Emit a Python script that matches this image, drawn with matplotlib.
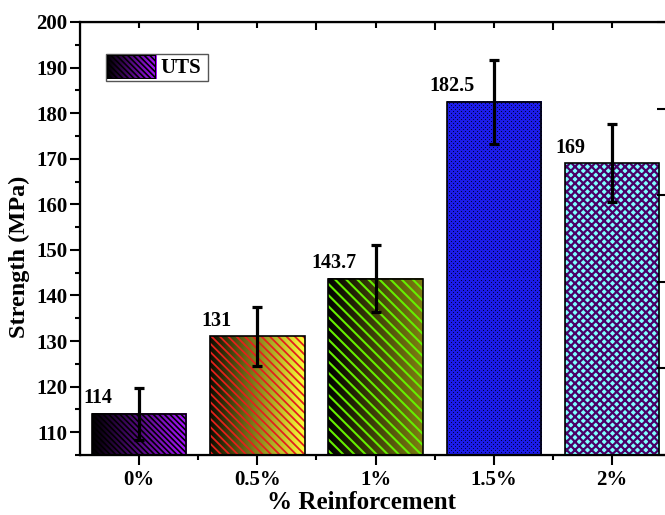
import numpy as np
import matplotlib
matplotlib.use("Agg")
import matplotlib.pyplot as plt
from matplotlib.colors import LinearSegmentedColormap, to_rgb
from matplotlib.patches import Rectangle

categories = ["0%", "0.5%", "1%", "1.5%", "2%"]
uts = [114, 131, 143.7, 182.5, 169]
uts_err = [5.8, 6.5, 7.3, 9.2, 8.6]
value_labels = ["114", "131", "143.7", "182.5", "169"]

# fill style per bar: gradient start/end, hatch, hatch colour, hatch width
grad_start = ["#000000", "#0c0c00", "#000000", "#1c1ce8", "#80ffff"]
grad_end = ["#a814ff", "#ffff3a", "#7f7f12", "#1c1ce8", "#80ffff"]
hatches = ["\\" * 6, "\\" * 4, "\\" * 3, None, "x" * 4]
hatch_colors = ["#000000", "#e4201c", "#66ee00", "#000040", "#4a0066"]
hatch_widths = [1.2, 1.3, 1.5, 0.7, 1.6]

plt.rcParams["font.family"] = ["Liberation Serif", "DejaVu Serif"]
plt.rcParams["font.weight"] = "bold"

fig = plt.figure(figsize=(6.65, 5.15), dpi=100)
ax = fig.add_axes([0.1203, 0.1165, 0.889, 0.8408])
ax.set_xlim(-0.5, 4.5)
ax.set_ylim(105, 200)
ymin = ax.get_ylim()[0]

x = np.arange(len(categories))
bars = ax.bar(x, uts, width=0.8, color="none", edgecolor="none", zorder=1)

for i, b in enumerate(bars):
    x0, w, h = b.get_x(), b.get_width(), b.get_height()
    if hatches[i] is None:
        # fine dotted texture, built at screen resolution to avoid moire
        (px0, py0), (px1, py1) = ax.transData.transform([[x0, ymin], [x0 + w, h]])
        nx, ny = int(round(px1 - px0)), int(round(py1 - py0))
        tex = np.ones((ny, nx, 3)) * np.array(to_rgb(grad_start[i]))
        jj, ii = np.meshgrid(np.arange(nx), np.arange(ny))
        dots = ((ii % 4 == 0) & (jj % 4 == 0)) | ((ii % 4 == 2) & (jj % 4 == 2))
        tex[dots] = to_rgb(hatch_colors[i])
        ax.imshow(tex, aspect="auto", extent=[x0, x0 + w, ymin, h], zorder=1,
                  interpolation="nearest")
    else:
        cmap = LinearSegmentedColormap.from_list("g%d" % i, [grad_start[i], grad_end[i]])
        ax.imshow(np.linspace(0, 1, 256).reshape(1, -1), cmap=cmap, aspect="auto",
                  extent=[x0, x0 + w, ymin, h], zorder=1, interpolation="bilinear")
        plt.rcParams["hatch.linewidth"] = hatch_widths[i]
        hp = Rectangle((x0, ymin), w, h - ymin, facecolor="none",
                       edgecolor=hatch_colors[i], linewidth=0, hatch=hatches[i], zorder=2)
        if hasattr(hp, "set_hatch_linewidth"):
            hp.set_hatch_linewidth(hatch_widths[i])
        ax.add_patch(hp)
    ax.add_patch(Rectangle((x0, 0), w, h, fill=False, edgecolor="black",
                           linewidth=1.2, zorder=3))
    ax.annotate(value_labels[i], (x0 + 0.05, uts[i]), xytext=(0, 4),
                textcoords="offset points", ha="center", va="bottom",
                fontsize=14.5, fontweight="bold", zorder=5)

ax.errorbar(x, uts, yerr=uts_err, fmt="none", ecolor="black", elinewidth=2.3,
            capsize=3.8, capthick=2.3, zorder=4)

ax.set_xlim(-0.5, 4.5)
ax.set_ylim(105, 200)
ax.set_xticks(x)
ax.set_xticklabels(categories)
ax.set_xticks(x[:-1] + 0.5, minor=True)
ax.set_yticks(np.arange(110, 201, 10))
ax.set_yticks(np.arange(105, 200, 10), minor=True)
ax.tick_params(axis="both", which="major", direction="out", length=7, width=1.5,
               labelsize=15, pad=2)
ax.tick_params(axis="both", which="minor", direction="out", length=3.5, width=1.5)
ax.tick_params(axis="x", which="major", pad=4)
for s in ax.spines.values():
    s.set_linewidth(1.6)

top = ax.secondary_xaxis("top")
top.set_xticks(x[:-1] + 0.5)
top.set_xticks(x, minor=True)
top.tick_params(which="major", direction="in", length=6, width=1.5, labeltop=False)
top.tick_params(which="minor", direction="in", length=4, width=1.5)
top.set_xticklabels([])

right = ax.twinx()
right.set_ylim(0, 10)
right.set_yticks([0, 2, 4, 6, 8, 10])
right.tick_params(direction="in", length=10, width=1.5, labelright=False)
right.spines["right"].set_linewidth(1.6)

ax.set_xlabel("% Reinforcement", fontsize=18, fontweight="bold")
ax.set_ylabel("Strength (MPa)", fontsize=17.5, fontweight="bold")
ax.xaxis.set_label_coords(0.477, -0.083)
ax.yaxis.set_label_coords(-0.085, 0.457)

# legend drawn by hand so the swatch can carry the gradient
fig.patches.append(Rectangle((0.1594, 0.8427), 0.1534, 0.0524, transform=fig.transFigure,
                             facecolor="white", edgecolor="#555555", linewidth=1.0,
                             zorder=6))
lax = fig.add_axes([0.1609, 0.8466, 0.0737, 0.0466])
lax.set_zorder(8)
lcmap = LinearSegmentedColormap.from_list("leg", [grad_start[0], grad_end[0]])
lax.imshow(np.linspace(0, 1, 256).reshape(1, -1), cmap=lcmap, aspect="auto",
           extent=[0, 1, 0, 1])
plt.rcParams["hatch.linewidth"] = hatch_widths[0]
lp = Rectangle((0, 0), 1, 1, facecolor="none", edgecolor=hatch_colors[0], linewidth=0,
               hatch=hatches[0])
lax.add_patch(lp)
lax.add_patch(Rectangle((0, 0), 1, 1, fill=False, edgecolor="black", linewidth=1.5))
lax.set_xlim(0, 1)
lax.set_ylim(0, 1)
lax.axis("off")
fig.text(0.2406, 0.8689, "UTS", fontsize=15, fontweight="bold", va="center",
         ha="left", zorder=9)

fig.savefig("out.png", dpi=100)
